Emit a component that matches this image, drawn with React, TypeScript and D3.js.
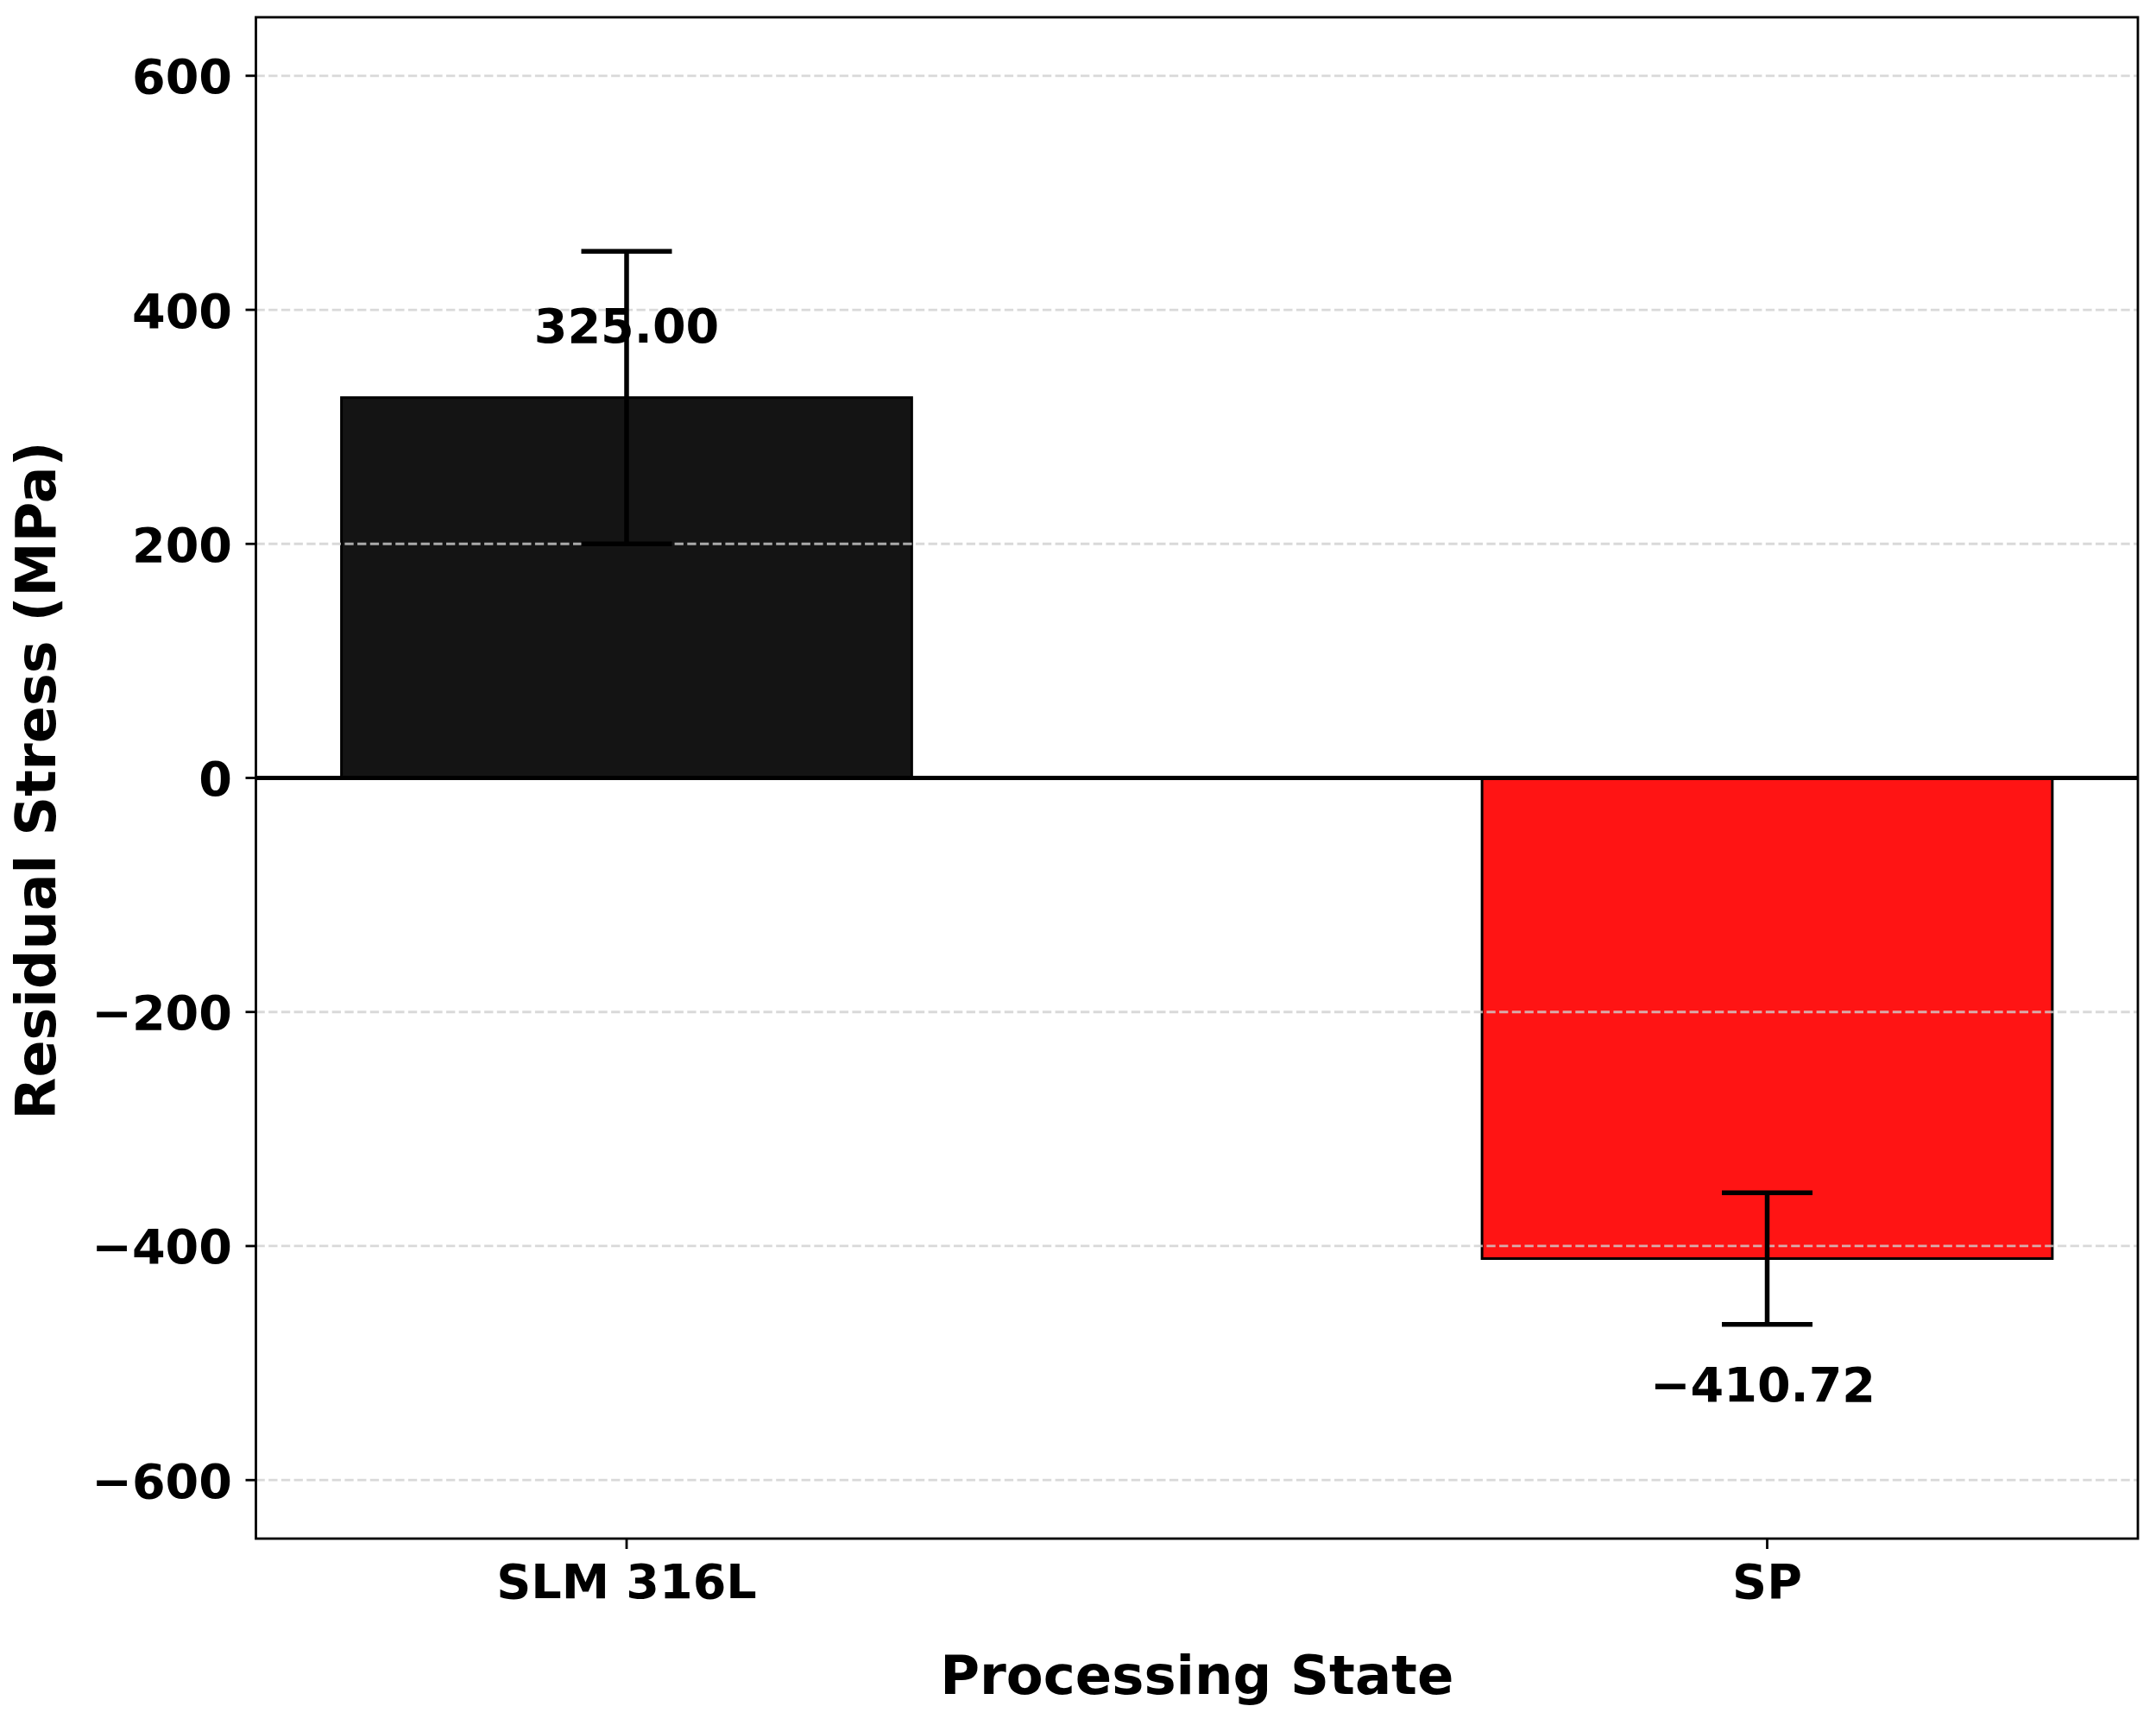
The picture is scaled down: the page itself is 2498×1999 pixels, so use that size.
import React from "react";
import * as d3 from "d3";

const categories = ["SLM 316L", "SP"];
const values = [325.0, -410.72];
const errors = [125, 56.3];
const barColors = ["#141414", "#ff1414"];
const yTicks = [-600, -400, -200, 0, 200, 400, 600];
const yDomain = [-650, 650];
const xTitle = "Processing State";
const yTitle = "Residual Stress (MPa)";

const W = 2498;
const H = 1999;
const plot = { left: 296.5, right: 2477, top: 20, bottom: 1783 };
const FONT = "'DejaVu Sans', sans-serif";

export default function App() {
  const x = d3
    .scaleBand<string>()
    .domain(categories)
    .range([plot.left, plot.right])
    .paddingInner(0.5)
    .paddingOuter(0.075);
  const y = d3.scaleLinear().domain(yDomain).range([plot.bottom, plot.top]);
  const fmtTick = d3.format("d");
  const fmtVal = d3.format(".2f");
  const bw = x.bandwidth();
  const capHalf = 52.5;

  return (
    <svg
      width={W}
      height={H}
      style={{ position: "absolute", left: 0, top: 0, display: "block", background: "#fff" }}
      fontFamily={FONT}
      fontWeight="bold"
    >
      <rect x={0} y={0} width={W} height={H} fill="#fff" />
      {/* bars */}
      {categories.map((c, i) => {
        const v = values[i];
        const y0 = y(Math.max(0, v));
        const y1 = y(Math.min(0, v));
        return (
          <rect
            key={c}
            x={x(c)}
            y={y0}
            width={bw}
            height={y1 - y0}
            fill={barColors[i]}
            stroke="#000"
            strokeWidth={3}
          />
        );
      })}
      {/* grid */}
      {yTicks.map((t) => (
        <line
          key={"g" + t}
          x1={plot.left}
          x2={plot.right}
          y1={y(t)}
          y2={y(t)}
          stroke="#cfcfcf"
          strokeOpacity={0.8}
          strokeWidth={2.8}
          strokeDasharray="10.3,4.4"
        />
      ))}
      {/* zero line */}
      <line x1={plot.left} x2={plot.right} y1={y(0)} y2={y(0)} stroke="#000" strokeWidth={5.2} />
      {/* value labels */}
      {categories.map((c, i) => {
        const v = values[i];
        const cx = (x(c) as number) + bw / 2;
        const by = v >= 0 ? y(v) - 64 : y(v) + 166;
        return (
          <text key={"l" + c} x={cx - (v < 0 ? 5 : 0)} y={by} textAnchor="middle" fontSize={55.6} fill="#000">
            {fmtVal(v)}
          </text>
        );
      })}
      {/* error bars */}
      {categories.map((c, i) => {
        const v = values[i];
        const e = errors[i];
        const cx = (x(c) as number) + bw / 2;
        return (
          <g key={"e" + c} stroke="#000" strokeWidth={5.5}>
            <line x1={cx} x2={cx} y1={y(v + e)} y2={y(v - e)} />
            <line x1={cx - capHalf} x2={cx + capHalf} y1={y(v + e)} y2={y(v + e)} />
            <line x1={cx - capHalf} x2={cx + capHalf} y1={y(v - e)} y2={y(v - e)} />
          </g>
        );
      })}
      {/* spines */}
      <rect
        x={plot.left}
        y={plot.top}
        width={plot.right - plot.left}
        height={plot.bottom - plot.top}
        fill="none"
        stroke="#000"
        strokeWidth={2.8}
      />
      {/* y ticks */}
      {yTicks.map((t) => (
        <g key={"yt" + t}>
          <line x1={plot.left - 12} x2={plot.left} y1={y(t)} y2={y(t)} stroke="#000" strokeWidth={2.8} />
          <text x={269} y={y(t) + 20.5} textAnchor="end" fontSize={55.6} fill="#000">
            {fmtTick(t)}
          </text>
        </g>
      ))}
      {/* x ticks */}
      {categories.map((c) => {
        const cx = (x(c) as number) + bw / 2;
        return (
          <g key={"xt" + c}>
            <line x1={cx} x2={cx} y1={plot.bottom} y2={plot.bottom + 12} stroke="#000" strokeWidth={2.8} />
            <text x={cx} y={1852} textAnchor="middle" fontSize={55.6} fill="#000">
              {c}
            </text>
          </g>
        );
      })}
      {/* axis titles */}
      <text
        x={(plot.left + plot.right) / 2}
        y={1963}
        textAnchor="middle"
        fontSize={62.5}
        fill="#000"
      >
        {xTitle}
      </text>
      <text
        transform={`translate(64, ${(plot.top + plot.bottom) / 2 + 3}) rotate(-90)`}
        textAnchor="middle"
        fontSize={63.5}
        fill="#000"
      >
        {yTitle}
      </text>
    </svg>
  );
}
